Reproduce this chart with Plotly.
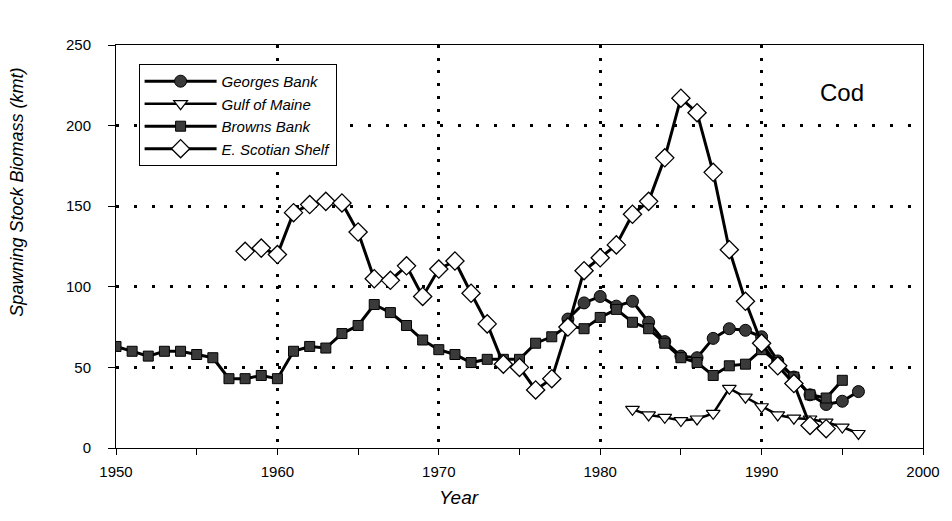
import plotly.graph_objects as go

# ---- data ----
georges_years = list(range(1978, 1997))
georges_ssb = [80, 90, 94, 88, 91, 78, 66, 57, 56, 68, 74, 73, 69, 54, 44, 33, 27, 29, 35]

gulf_years = list(range(1982, 1997))
gulf_ssb = [24, 20.5, 19, 17, 18, 21.5, 37, 31.5, 25.6, 20.5, 18.5, 18, 16, 13, 9]

browns_years = list(range(1950, 1996))
browns_ssb = [63, 60, 57, 60, 60, 58, 56, 43, 43, 45, 43, 60, 63, 62, 71, 76, 89, 84, 76, 67,
              61, 58, 53, 55, 55, 55, 65, 69, 76, 74, 81, 86, 78, 74, 65, 56, 53, 45, 51, 52,
              61, 53, 44, 33, 31, 42]

scotian_years = list(range(1958, 1995))
scotian_ssb = [122, 124, 120, 146, 151, 153, 152, 134, 105, 104, 113, 94, 111, 116, 96, 77,
               52, 50, 36, 43, 75, 110, 118, 126, 145, 153, 180, 217, 208, 171, 123, 91, 65,
               51, 40, 14, 12]

x_ticks = [1950, 1960, 1970, 1980, 1990, 2000]
y_ticks = [0, 50, 100, 150, 200, 250]

FONT = "Liberation Sans, Arial, sans-serif"
DARK = "#3a3a3a"

fig = go.Figure()
fig.add_trace(go.Scatter(
    x=georges_years, y=georges_ssb, name="Georges Bank", mode="lines+markers",
    line=dict(color="black", width=3),
    marker=dict(symbol="circle", size=12, color=DARK, line=dict(color="black", width=1))))
fig.add_trace(go.Scatter(
    x=gulf_years, y=gulf_ssb, name="Gulf of Maine", mode="lines+markers",
    line=dict(color="black", width=2.5),
    marker=dict(symbol="triangle-down", size=12, color="white", line=dict(color="black", width=1.2))))
fig.add_trace(go.Scatter(
    x=browns_years, y=browns_ssb, name="Browns Bank", mode="lines+markers",
    line=dict(color="black", width=3),
    marker=dict(symbol="square", size=10, color=DARK, line=dict(color="black", width=1))))
fig.add_trace(go.Scatter(
    x=scotian_years, y=scotian_ssb, name="E. Scotian Shelf", mode="lines+markers",
    line=dict(color="black", width=3),
    marker=dict(symbol="diamond", size=14, color="white", line=dict(color="black", width=1.3))))

# The page body adds an 8px offset, so the figure is sized/margined to compensate.
fig.update_layout(
    width=944, height=513,
    margin=dict(l=108, r=25, t=37, b=73),
    paper_bgcolor="white", plot_bgcolor="white",
    font=dict(family=FONT, color="black", size=15),
    showlegend=True,
    legend=dict(
        x=0.028, y=0.953, xanchor="left", yanchor="top",
        bordercolor="black", borderwidth=1, bgcolor="white",
        font=dict(family=FONT, size=15, style="italic"),
        tracegroupgap=0, itemwidth=72,
    ),
)

fig.update_xaxes(
    range=[1950, 2000], tickvals=x_ticks, ticktext=[str(v) for v in x_ticks],
    showline=True, linecolor="black", linewidth=1, mirror=True,
    ticks="outside", ticklen=6, tickcolor="black",
    minor=dict(dtick=5, tick0=1950, ticks="outside", ticklen=6, tickcolor="black", showgrid=False),
    showgrid=True, gridcolor="black", gridwidth=3, griddash="3px,9.7px",
    zeroline=False, tickfont=dict(size=15), ticklabelstandoff=4,
)
fig.update_yaxes(
    range=[0, 250], tickvals=y_ticks, ticktext=[str(v) for v in y_ticks],
    showline=True, linecolor="black", linewidth=1, mirror=True,
    ticks="outside", ticklen=7, tickcolor="black",
    showgrid=True, gridcolor="black", gridwidth=3, griddash="3px,15px",
    zeroline=False, tickfont=dict(size=15), ticklabelstandoff=14,
)

fig.add_annotation(text="Spawning Stock Biomass (kmt)", xref="paper", yref="paper",
                   x=-0.122, y=0.635, xanchor="center", yanchor="middle", textangle=-90,
                   showarrow=False, font=dict(family=FONT, size=18, style="italic"))
fig.add_annotation(text="Year", xref="paper", yref="paper",
                   x=0.425, y=-0.124, xanchor="center", yanchor="middle",
                   showarrow=False, font=dict(family=FONT, size=19, style="italic"))
fig.add_annotation(text="Cod", xref="paper", yref="paper",
                   x=0.90, y=0.881, xanchor="center", yanchor="middle",
                   showarrow=False, font=dict(family=FONT, size=24))

fig.write_html("out.html")
